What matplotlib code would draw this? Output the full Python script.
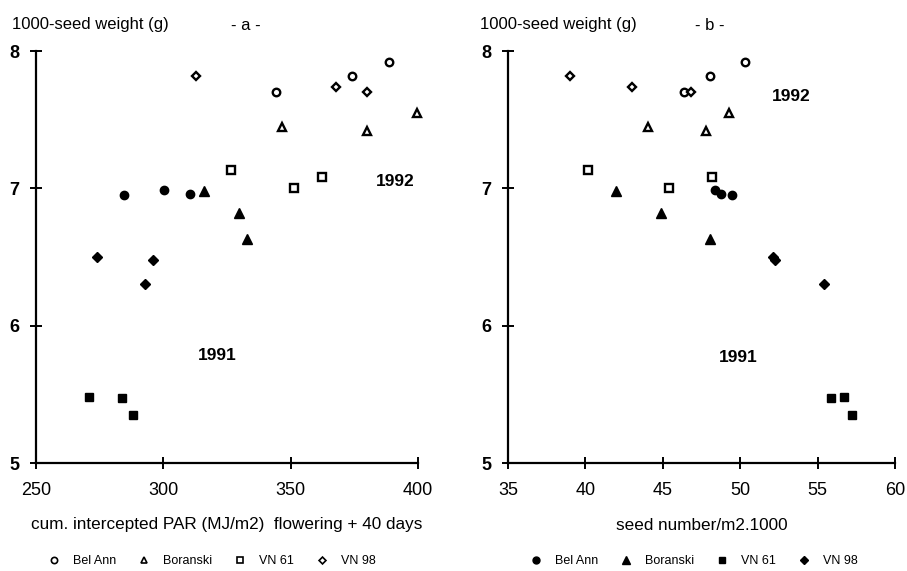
import matplotlib
matplotlib.use("Agg")
import matplotlib.pyplot as plt
from matplotlib.lines import Line2D

plt.rcParams["font.family"] = ["Liberation Sans", "DejaVu Sans"]

cultivars = ["Bel Ann", "Boranski", "VN 61", "VN 98"]
markers = ["o", "^", "s", "D"]

# 1991 (filled markers)
wt_91 = {
    "Bel Ann": [6.95, 6.99, 6.96],
    "Boranski": [6.98, 6.82, 6.63],
    "VN 61": [5.48, 5.47, 5.35],
    "VN 98": [6.50, 6.48, 6.30],
}
par_91 = {
    "Bel Ann": [284.5, 300.4, 310.5],
    "Boranski": [316.1, 329.7, 333.0],
    "VN 61": [270.8, 283.8, 288.1],
    "VN 98": [273.9, 295.8, 292.8],
}
seeds_91 = {
    "Bel Ann": [49.46, 48.34, 48.77],
    "Boranski": [41.97, 44.9, 48.04],
    "VN 61": [56.7, 55.87, 57.25],
    "VN 98": [52.15, 52.25, 55.4],
}

# 1992 (open markers)
wt_92 = {
    "Bel Ann": [7.70, 7.82, 7.92],
    "Boranski": [7.45, 7.42, 7.55],
    "VN 61": [7.13, 7.00, 7.08],
    "VN 98": [7.82, 7.74, 7.70],
}
par_92 = {
    "Bel Ann": [344.1, 374.2, 388.7],
    "Boranski": [346.7, 379.8, 399.5],
    "VN 61": [326.4, 351.4, 362.4],
    "VN 98": [312.7, 367.7, 379.8],
}
seeds_92 = {
    "Bel Ann": [46.4, 48.04, 50.34],
    "Boranski": [44.06, 47.78, 49.27],
    "VN 61": [40.2, 45.37, 48.2],
    "VN 98": [38.98, 42.98, 46.85],
}

ms = {"o": 6.0, "^": 6.5, "s": 6.0, "D": 5.0}


def draw(ax, x91, x92):
    for c, m in zip(cultivars, markers):
        ax.plot(x91[c], wt_91[c], ls="none", marker=m, ms=ms[m], color="black",
                mec="black", clip_on=False, zorder=3)
        ax.plot(x92[c], wt_92[c], ls="none", marker=m, ms=ms[m] - 0.6, mfc="white",
                mec="black", mew=1.7, clip_on=False, zorder=3)


def style(ax, xlim, xticks):
    ax.set_xlim(*xlim)
    ax.set_ylim(5, 8)
    ax.set_xticks(xticks)
    ax.set_yticks([5, 6, 7, 8])
    for s in ["top", "right"]:
        ax.spines[s].set_visible(False)
    for s in ["left", "bottom"]:
        ax.spines[s].set_linewidth(1.6)
    ax.tick_params(axis="both", direction="inout", length=8, width=1.4)
    ax.tick_params(axis="x", labelsize=13, pad=10)
    ax.tick_params(axis="y", labelsize=13, pad=8)
    for lab in ax.get_yticklabels():
        lab.set_fontweight("bold")


fig = plt.figure(figsize=(9.07, 5.71), dpi=100)
ax1 = fig.add_axes([36 / 907, 1 - 463 / 571, 382 / 907, 412 / 571])
ax2 = fig.add_axes([508 / 907, 1 - 463 / 571, 387 / 907, 412 / 571])

draw(ax1, par_91, par_92)
draw(ax2, seeds_91, seeds_92)
style(ax1, (250, 400), [250, 300, 350, 400])
style(ax2, (35, 60), [35, 40, 45, 50, 55, 60])

ax1.set_xlabel("cum. intercepted PAR (MJ/m2)  flowering + 40 days", fontsize=12.3, labelpad=13)
ax2.set_xlabel("seed number/m2.1000", fontsize=12.3, labelpad=13)

ax1.text(391, 7.05, "1992", fontsize=12.5, fontweight="bold", ha="center", va="center")
ax1.text(321, 5.78, "1991", fontsize=12.5, fontweight="bold", ha="center", va="center")
ax2.text(53.3, 7.67, "1992", fontsize=12.5, fontweight="bold", ha="center", va="center")
ax2.text(49.9, 5.77, "1991", fontsize=12.5, fontweight="bold", ha="center", va="center")

fig.text(12 / 907, 1 - 25 / 571, "1000-seed weight (g)", fontsize=12, va="center")
fig.text(246 / 907, 1 - 25 / 571, "- a -", fontsize=12, va="center", ha="center")
fig.text(480 / 907, 1 - 25 / 571, "1000-seed weight (g)", fontsize=12, va="center")
fig.text(710 / 907, 1 - 25 / 571, "- b -", fontsize=12, va="center", ha="center")

open_h = [Line2D([], [], ls="none", marker=m, ms=ms[m] - 1.5, mfc="white", mec="black", mew=1.2)
          for m in markers]
fill_h = [Line2D([], [], ls="none", marker=m, ms=ms[m] - 1.0, color="black") for m in markers]
leg_kw = dict(ncol=4, frameon=False, fontsize=9, handlelength=1.0, handletextpad=1.0,
              columnspacing=1.75, loc="center left", borderpad=0, borderaxespad=0)
fig.legend(open_h, cultivars, bbox_to_anchor=(48 / 907, 1 - 561 / 571), **leg_kw)
fig.legend(fill_h, cultivars, bbox_to_anchor=(530 / 907, 1 - 561 / 571), **leg_kw)

fig.savefig("out.png", dpi=100)
